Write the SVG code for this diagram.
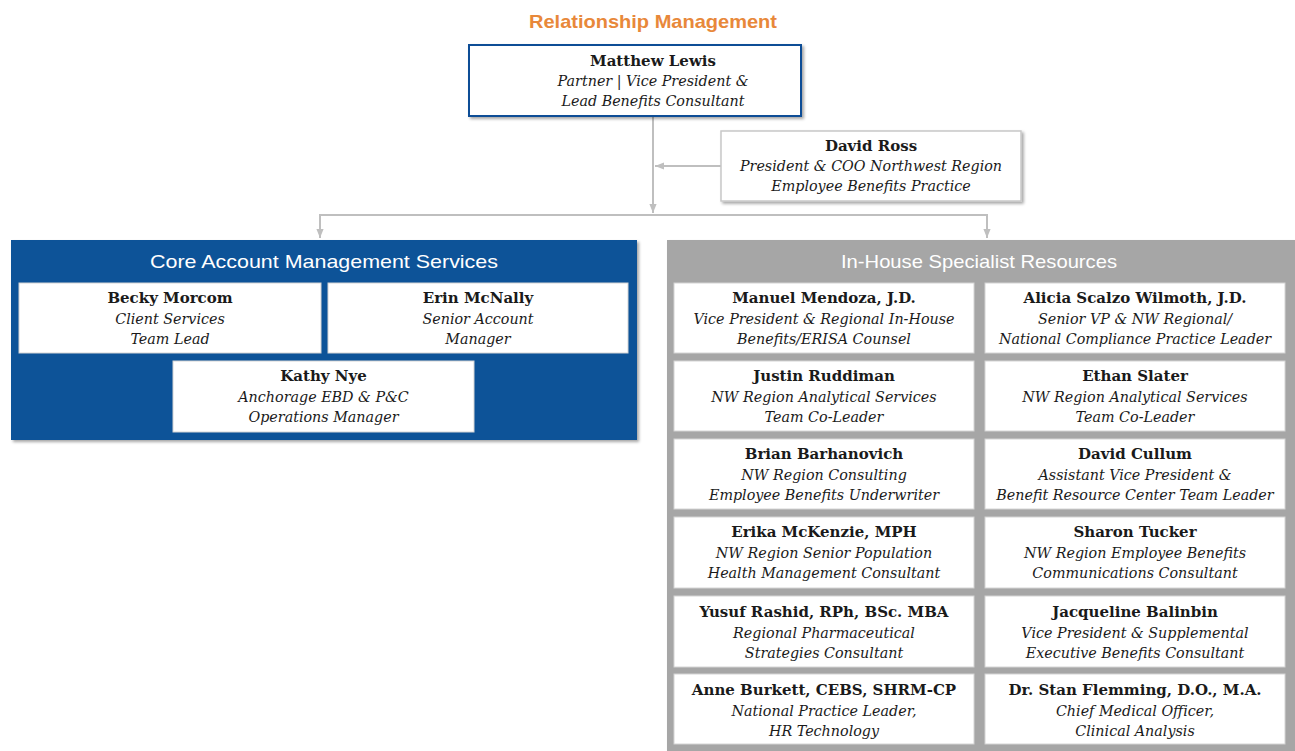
<svg xmlns="http://www.w3.org/2000/svg" width="1295" height="751" viewBox="0 0 1295 751">
<defs>
<filter id="sh" x="-5%" y="-5%" width="110%" height="120%">
<feDropShadow dx="2" dy="2" stdDeviation="1.5" flood-color="#000" flood-opacity="0.35"/>
</filter>
<marker id="ah2" viewBox="0 0 10 10" refX="10" refY="5" markerWidth="9" markerHeight="9" orient="auto" markerUnits="userSpaceOnUse">
<path d="M0,1 L10,5 L0,9 z" fill="#BFBFBF"/>
</marker>
</defs>
<style>
.ttl{font-family:"Liberation Sans",Arial,sans-serif;font-size:19px;text-anchor:middle}
.nm{font-family:"DejaVu Serif",Georgia,serif;font-weight:bold;font-size:15px;fill:#1a1a1a;text-anchor:middle}
.rl{font-family:"DejaVu Serif",Georgia,serif;font-style:italic;font-size:14.3px;fill:#1a1a1a;text-anchor:middle}
.card{fill:#fff;stroke:#D4D4D4;stroke-width:1}
.conn{fill:none;stroke:#BFBFBF;stroke-width:2}
</style>
<rect width="1295" height="751" fill="#fff"/>

<text class="ttl" x="653" y="28" fill="#E8883A" font-weight="bold" textLength="248" lengthAdjust="spacingAndGlyphs">Relationship Management</text>

<g id="connectors">
<line class="conn" x1="653" y1="117" x2="653" y2="213" marker-end="url(#ah2)"/>
<line class="conn" x1="721" y1="166" x2="655" y2="166" marker-end="url(#ah2)"/>
<polyline class="conn" points="320,215 987,215"/>
<line class="conn" x1="320" y1="214" x2="320" y2="238" marker-end="url(#ah2)"/>
<line class="conn" x1="987" y1="214" x2="987" y2="238" marker-end="url(#ah2)"/>
</g>

<g id="matthew-lewis">
<rect x="469" y="45" width="332" height="71" fill="#fff" stroke="#0E4E96" stroke-width="2" filter="url(#sh)"/>
<text class="nm" x="653" y="66">Matthew Lewis</text>
<text class="rl" x="653" y="86">Partner | Vice President &amp;</text>
<text class="rl" x="653" y="106">Lead Benefits Consultant</text>
</g>

<g id="david-ross">
<rect x="721" y="131" width="300" height="70" fill="#fff" stroke="#C8C8C8" stroke-width="1.5" filter="url(#sh)"/>
<text class="nm" x="871" y="151">David Ross</text>
<text class="rl" x="871" y="171">President &amp; COO Northwest Region</text>
<text class="rl" x="871" y="191">Employee Benefits Practice</text>
</g>

<g id="core-account-management">
<rect x="11" y="240" width="626" height="200" fill="#0B5398" filter="url(#sh)"/>
<text class="ttl" x="324" y="268" fill="#fff" textLength="348" lengthAdjust="spacingAndGlyphs">Core Account Management Services</text>
</g>
<g id="becky-morcom">
<rect class="card" x="19" y="283" width="302" height="70"/>
<text class="nm" x="170" y="303">Becky Morcom</text>
<text class="rl" x="170" y="324">Client Services</text>
<text class="rl" x="170" y="344">Team Lead</text>
</g>
<g id="erin-mcnally">
<rect class="card" x="328" y="283" width="300" height="70"/>
<text class="nm" x="478" y="303">Erin McNally</text>
<text class="rl" x="478" y="324">Senior Account</text>
<text class="rl" x="478" y="344">Manager</text>
</g>
<g id="kathy-nye">
<rect class="card" x="173" y="361" width="301" height="71"/>
<text class="nm" x="323.5" y="381">Kathy Nye</text>
<text class="rl" x="323.5" y="402">Anchorage EBD &amp; P&amp;C</text>
<text class="rl" x="323.5" y="422">Operations Manager</text>
</g>

<g id="in-house-specialist">
<rect x="667" y="240" width="630" height="515" fill="#A6A6A6" filter="url(#sh)"/>
<text class="ttl" x="979" y="268" fill="#fff" textLength="276" lengthAdjust="spacingAndGlyphs">In-House Specialist Resources</text>
</g>

<g id="manuel-mendoza">
<rect class="card" x="674" y="283" width="300" height="70"/>
<text class="nm" x="824" y="303">Manuel Mendoza, J.D.</text>
<text class="rl" x="824" y="324">Vice President &amp; Regional In-House</text>
<text class="rl" x="824" y="344">Benefits/ERISA Counsel</text>
</g>
<g id="alicia-scalzo-wilmoth">
<rect class="card" x="985" y="283" width="300" height="70"/>
<text class="nm" x="1135" y="303">Alicia Scalzo Wilmoth, J.D.</text>
<text class="rl" x="1135" y="324">Senior VP &amp; NW Regional/</text>
<text class="rl" x="1135" y="344">National Compliance Practice Leader</text>
</g>
<g id="justin-ruddiman">
<rect class="card" x="674" y="361" width="300" height="70"/>
<text class="nm" x="824" y="381">Justin Ruddiman</text>
<text class="rl" x="824" y="402">NW Region Analytical Services</text>
<text class="rl" x="824" y="422">Team Co-Leader</text>
</g>
<g id="ethan-slater">
<rect class="card" x="985" y="361" width="300" height="70"/>
<text class="nm" x="1135" y="381">Ethan Slater</text>
<text class="rl" x="1135" y="402">NW Region Analytical Services</text>
<text class="rl" x="1135" y="422">Team Co-Leader</text>
</g>
<g id="brian-barhanovich">
<rect class="card" x="674" y="439" width="300" height="70"/>
<text class="nm" x="824" y="459">Brian Barhanovich</text>
<text class="rl" x="824" y="480">NW Region Consulting</text>
<text class="rl" x="824" y="500">Employee Benefits Underwriter</text>
</g>
<g id="david-cullum">
<rect class="card" x="985" y="439" width="300" height="70"/>
<text class="nm" x="1135" y="459">David Cullum</text>
<text class="rl" x="1135" y="480">Assistant Vice President &amp;</text>
<text class="rl" x="1135" y="500">Benefit Resource Center Team Leader</text>
</g>
<g id="erika-mckenzie">
<rect class="card" x="674" y="517" width="300" height="71"/>
<text class="nm" x="824" y="537">Erika McKenzie, MPH</text>
<text class="rl" x="824" y="558">NW Region Senior Population</text>
<text class="rl" x="824" y="578">Health Management Consultant</text>
</g>
<g id="sharon-tucker">
<rect class="card" x="985" y="517" width="300" height="71"/>
<text class="nm" x="1135" y="537">Sharon Tucker</text>
<text class="rl" x="1135" y="558">NW Region Employee Benefits</text>
<text class="rl" x="1135" y="578">Communications Consultant</text>
</g>
<g id="yusuf-rashid">
<rect class="card" x="674" y="596" width="300" height="71"/>
<text class="nm" x="824" y="617">Yusuf Rashid, RPh, BSc. MBA</text>
<text class="rl" x="824" y="638">Regional Pharmaceutical</text>
<text class="rl" x="824" y="658">Strategies Consultant</text>
</g>
<g id="jacqueline-balinbin">
<rect class="card" x="985" y="596" width="300" height="71"/>
<text class="nm" x="1135" y="617">Jacqueline Balinbin</text>
<text class="rl" x="1135" y="638">Vice President &amp; Supplemental</text>
<text class="rl" x="1135" y="658">Executive Benefits Consultant</text>
</g>
<g id="anne-burkett">
<rect class="card" x="674" y="674" width="300" height="70"/>
<text class="nm" x="824" y="695">Anne Burkett, CEBS,  SHRM-CP</text>
<text class="rl" x="824" y="716">National Practice Leader,</text>
<text class="rl" x="824" y="736">HR Technology</text>
</g>
<g id="stan-flemming">
<rect class="card" x="985" y="674" width="300" height="70"/>
<text class="nm" x="1135" y="695">Dr. Stan Flemming, D.O.,  M.A.</text>
<text class="rl" x="1135" y="716">Chief Medical Officer,</text>
<text class="rl" x="1135" y="736">Clinical Analysis</text>
</g>
</svg>
